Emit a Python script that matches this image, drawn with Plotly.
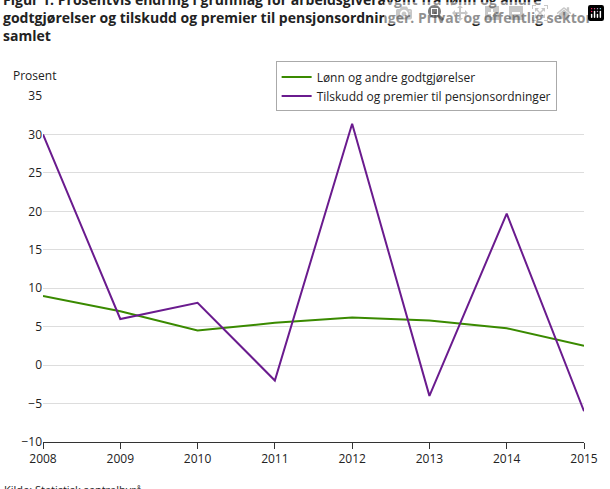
import plotly.graph_objects as go

years = [2008, 2009, 2010, 2011, 2012, 2013, 2014, 2015]
lonn = [9.0, 7.0, 4.5, 5.5, 6.2, 5.8, 4.8, 2.5]
tilskudd = [30.0, 6.0, 8.1, -2.0, 31.4, -4.0, 19.7, -6.0]

fig = go.Figure()
fig.add_trace(go.Scatter(x=years, y=lonn, mode="lines", name="Lønn og andre godtgjørelser",
                         line=dict(color="#3a8a00", width=2)))
fig.add_trace(go.Scatter(x=years, y=tilskudd, mode="lines", name="Tilskudd og premier til pensjonsordninger",
                         line=dict(color="#6a1b8e", width=2)))
fig.update_layout(
    width=610, height=489, plot_bgcolor="white", paper_bgcolor="white",
    margin=dict(l=43, r=24, t=96, b=47),
    font=dict(family="Open Sans", size=12, color="#222"),
    title=dict(text="<b>Figur 1. Prosentvis endring i grunnlag for arbeidsgiveravgift fra lønn og andre<br>godtgjørelser og tilskudd og premier til pensjonsordninger. Privat og offentlig sektor<br>samlet</b>",
               x=0.005, xanchor="left", y=0.99, yanchor="top", font=dict(size=14)),
    legend=dict(x=0.43, y=1.10, xanchor="left", yanchor="top", bordercolor="#aaa", borderwidth=1,
                font=dict(size=12)),
    showlegend=True,
)
fig.update_xaxes(range=[2008, 2015], tickvals=years, ticks="outside", ticklen=6, tickcolor="#333",
                 showline=True, linecolor="#333", showgrid=False)
fig.update_yaxes(range=[-10, 35], dtick=5, gridcolor="#ddd", zeroline=False, showline=False)
fig.add_annotation(text="Prosent", xref="paper", yref="paper", x=-0.06, y=1.03, xanchor="left",
                   yanchor="bottom", showarrow=False, font=dict(size=12))
fig.add_annotation(text="Kilde: Statistisk sentralbyrå.", xref="paper", yref="paper", x=-0.075, y=-0.11,
                   xanchor="left", yanchor="top", showarrow=False, font=dict(size=11))
fig.write_html("out.html")
with open("out.html", encoding="utf-8") as f:
    html = f.read()
html = html.replace("<body>", '<body style="margin:0;overflow:hidden">', 1)
with open("out.html", "w", encoding="utf-8") as f:
    f.write(html)
